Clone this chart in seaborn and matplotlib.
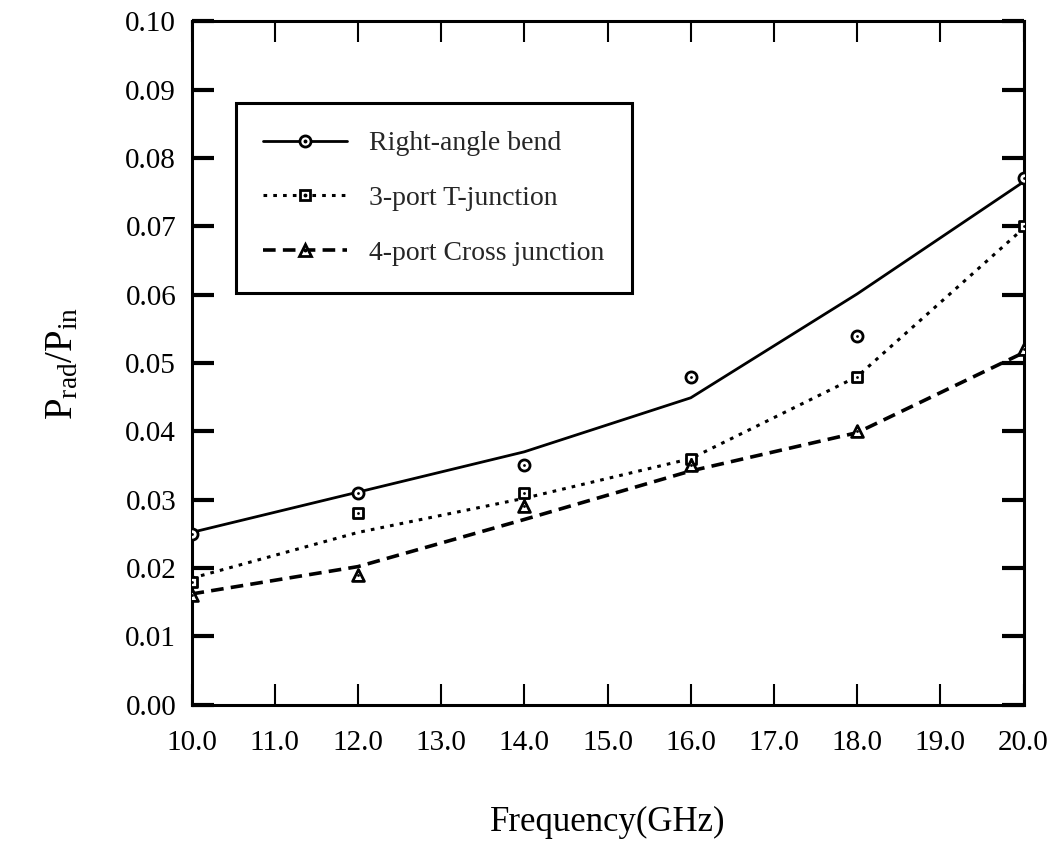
import matplotlib
matplotlib.use('Agg')
import matplotlib.pyplot as plt
from matplotlib.lines import Line2D
from matplotlib.ticker import FormatStrFormatter, MultipleLocator
import seaborn as sns

# frequency points (GHz)
freq = [10.0, 12.0, 14.0, 16.0, 18.0, 20.0]

# smooth curves drawn through the results
bend_curve = [0.0252, 0.0311, 0.0370, 0.0449, 0.0601, 0.0765]
tee_curve = [0.0185, 0.0252, 0.0302, 0.0360, 0.0480, 0.0697]
cross_curve = [0.0162, 0.0202, 0.0271, 0.0342, 0.0398, 0.0515]

# computed points (markers)
bend_pts = [0.025, 0.031, 0.035, 0.048, 0.054, 0.077]
tee_pts = [0.018, 0.028, 0.031, 0.036, 0.048, 0.070]
cross_pts = [0.016, 0.019, 0.029, 0.035, 0.040, 0.052]

labels = ['Right-angle bend', '3-port T-junction', '4-port Cross junction']

sns.set_theme(style='ticks')
plt.rcParams['font.family'] = ['Liberation Serif', 'DejaVu Serif']
plt.rcParams['mathtext.fontset'] = 'custom'
plt.rcParams['mathtext.rm'] = 'Liberation Serif'
plt.rcParams['mathtext.it'] = 'Liberation Serif:italic'

fig = plt.figure(figsize=(10.64, 8.48), dpi=100)
ax = fig.add_axes([0.180, 0.169, 0.782, 0.806])

series = [
    (bend_curve, bend_pts, '-', 'o', 8.0, 2.0),
    (tee_curve, tee_pts, (0, (1.2, 2.0)), 's', 7.5, 2.2),
    (cross_curve, cross_pts, (0, (3.5, 2.0)), '^', 8.5, 2.6),
]

handles = []
for (curve, pts, ls, mk, ms, lw), lab in zip(series, labels):
    sns.lineplot(x=freq, y=curve, ax=ax, color='black', linewidth=lw,
                 linestyle=ls, zorder=2)
    sns.scatterplot(x=freq, y=pts, ax=ax, marker=mk, s=ms ** 2,
                    facecolor='white', edgecolor='black', linewidth=2.0,
                    zorder=3)
    sns.scatterplot(x=freq, y=pts, ax=ax, marker='o', s=4,
                    color='black', edgecolor='black', linewidth=0, zorder=4)
    h_line = Line2D([], [], color='black', linewidth=lw, linestyle=ls,
                    marker=mk, markersize=ms, markerfacecolor='white',
                    markeredgecolor='black', markeredgewidth=2.0)
    h_dot = Line2D([], [], linestyle='none', marker='o', markersize=1.8,
                   color='black')
    handles.append((h_line, h_dot))

ax.set_xlim(10, 20)
ax.set_ylim(0, 0.10)
ax.xaxis.set_major_locator(MultipleLocator(1.0))
ax.yaxis.set_major_locator(MultipleLocator(0.01))
ax.xaxis.set_major_formatter(FormatStrFormatter('%.1f'))
ax.yaxis.set_major_formatter(FormatStrFormatter('%.2f'))

ax.tick_params(axis='x', direction='in', top=True, bottom=True,
               length=15, width=1.5, labelsize=21, pad=18, colors='black')
ax.tick_params(axis='y', direction='in', left=True, right=True,
               length=16, width=3, labelsize=21, pad=11, colors='black')

for side in ['left', 'right', 'top', 'bottom']:
    ax.spines[side].set_visible(True)
    ax.spines[side].set_color('black')
    ax.spines[side].set_linewidth(2.2)

ax.set_xlabel('Frequency(GHz)', fontsize=25, labelpad=36, color='black')
ax.set_ylabel(r'$\mathrm{P_{rad}/P_{in}}$', fontsize=28, labelpad=32,
              color='black')

leg = ax.legend(handles, labels, loc='upper left',
                bbox_to_anchor=(0.053, 0.88), fontsize=20, frameon=True,
                fancybox=False, shadow=False, framealpha=1,
                edgecolor='black', handlelength=3.0, handletextpad=0.8,
                labelspacing=1.05, borderpad=1.0, borderaxespad=0)
leg.get_frame().set_linewidth(2.2)

fig.savefig('out.png', dpi=100, facecolor='white')
